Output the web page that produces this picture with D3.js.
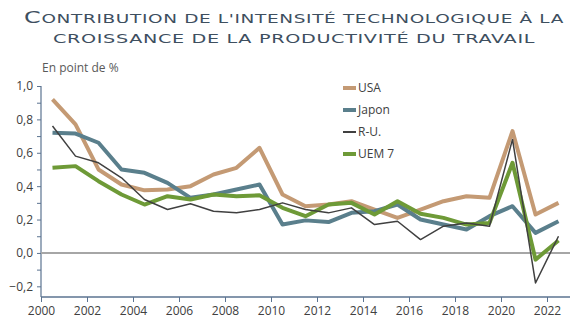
<!DOCTYPE html>
<html>
<head>
<meta charset="utf-8">
<script src="https://cdn.jsdelivr.net/npm/d3@7"></script>
<style>
  body { margin: 0; background: #fff; }
  svg { display: block; }
</style>
</head>
<body>
<svg width="588" height="321"></svg>
<script>
// years run 2000..2022, each point plotted at mid-year
const years = d3.range(2000, 2023);
const usa   = [0.92, 0.77, 0.50, 0.41, 0.375, 0.38, 0.40, 0.47, 0.51, 0.63, 0.35, 0.28, 0.29, 0.31, 0.26, 0.21, 0.26, 0.31, 0.34, 0.33, 0.73, 0.23, 0.30];
const japon = [0.72, 0.715, 0.66, 0.50, 0.48, 0.42, 0.33, 0.35, 0.38, 0.41, 0.17, 0.195, 0.185, 0.24, 0.25, 0.29, 0.20, 0.17, 0.14, 0.22, 0.28, 0.12, 0.19];
const ru    = [0.76, 0.58, 0.54, 0.45, 0.32, 0.26, 0.295, 0.25, 0.24, 0.26, 0.30, 0.26, 0.24, 0.27, 0.17, 0.19, 0.08, 0.16, 0.18, 0.16, 0.68, -0.18, 0.10];
const uem   = [0.51, 0.52, 0.43, 0.35, 0.29, 0.34, 0.32, 0.35, 0.34, 0.345, 0.27, 0.22, 0.29, 0.30, 0.23, 0.31, 0.235, 0.21, 0.17, 0.18, 0.54, -0.04, 0.075];

const seriesNames = ['USA', 'Japon', 'R-U.', 'UEM 7'];
const seriesColors = ['#c49a74', '#5a7f8c', '#404040', '#6e9a37'];
const seriesWidths = [4, 4, 1.5, 4];
const xTicks = d3.range(2000, 2023, 2);

const titleLines = ["Contribution de l'intensité technologique à la",
                    "croissance de la productivité du travail"];
const titleWidths = [540, 482];

const svg = d3.select("svg");
const plotLeft = 41, plotRight = 570, plotTop = 86, plotBottom = 297;

const x = d3.scaleLinear().domain([2000, 2023]).range([plotLeft, plotRight]);
const y = d3.scaleLinear().domain([-0.264, 1.0]).range([plotBottom, plotTop]);

// title in wide small caps: capitals at full size, the rest as smaller caps,
// then each line is stretched horizontally to its width
svg.append("g").selectAll("text")
   .data(titleLines)
   .enter().append("text")
   .attr("text-anchor", "middle")
   .style("font-family", "DejaVu Sans")
   .style("letter-spacing", "0.4px")
   .style("fill", "#3e4f5f")
   .each(function(d, i) {
     let t = d3.select(this);
     let first = d[0], rest = d.slice(1);
     t.append("tspan")
      .style("font-size", first == first.toUpperCase() ? "15px" : "11.6px")
      .text(first.toUpperCase());
     t.append("tspan").style("font-size", "11.6px").text(rest.toUpperCase());
     let sx = titleWidths[i] / this.getComputedTextLength();
     t.attr("transform", "translate(294," + (23 + i * 19.5) + ") scale(" + sx + ",1)");
   });

svg.append("text")
   .attr("x", 42).attr("y", 72)
   .style("font-family", "Open Sans")
   .style("font-size", "12px")
   .style("fill", "#595959")
   .text("En point de %");

// y axis with minor ticks every 0.1
const yAxis = d3.axisLeft(y)
                .tickValues(d3.range(-2, 11).map(d => d / 10))
                .tickSize(4)
                .tickFormat(d => Math.round(d * 10) % 2 == 0 ? d3.format(".1f")(d).replace(".", ",") : "");

svg.append("g")
   .attr("class", "axis y-axis")
   .attr("transform", "translate(" + plotLeft + ",0)")
   .call(yAxis)
   .call(g => {
     g.select(".domain").attr("d", "M0," + plotTop + "V" + plotBottom).attr("stroke", "#5b7390").attr("stroke-width", 1.2);
     g.selectAll(".tick line").attr("stroke", "#5b7390");
     g.selectAll(".tick text").attr("x", -8)
      .style("font-family", "Open Sans").style("font-size", "12px").style("fill", "#404040");
   });

// x axis
const xAxis = d3.axisBottom(x)
                .tickValues(xTicks)
                .tickSize(5)
                .tickFormat(d3.format("d"));

svg.append("g")
   .attr("class", "axis x-axis")
   .attr("transform", "translate(0," + plotBottom + ")")
   .call(xAxis)
   .call(g => {
     g.select(".domain").attr("d", "M" + plotLeft + ",0H" + plotRight).attr("stroke", "#5b7390").attr("stroke-width", 1.5);
     g.selectAll(".tick line").attr("stroke", "#5b7390");
     g.selectAll(".tick text").attr("y", 9)
      .style("font-family", "Open Sans").style("font-size", "12px").style("fill", "#404040");
   });

// zero line
svg.append("line")
   .attr("x1", plotLeft).attr("x2", plotRight)
   .attr("y1", y(0)).attr("y2", y(0))
   .attr("stroke", "#a6a6a6").attr("stroke-width", 2);

// thick series first, thin R-U. line on top
const series = [usa, japon, ru, uem];
const drawOrder = [0, 1, 3, 2];
const line = d3.line()
               .x((d, i) => x(years[i] + 0.5))
               .y(d => y(d));

svg.append("g").selectAll("path")
   .data(drawOrder)
   .enter().append("path")
   .attr("d", k => line(series[k]))
   .attr("fill", "none")
   .attr("stroke", k => seriesColors[k])
   .attr("stroke-width", k => seriesWidths[k])
   .attr("stroke-linejoin", "round");

// legend
const legend = svg.append("g").selectAll("g")
                  .data(seriesNames)
                  .enter().append("g")
                  .attr("transform", (d, i) => "translate(343," + (88 + i * 22) + ")");

legend.append("line")
      .attr("x1", 0).attr("x2", 13)
      .attr("stroke", (d, i) => seriesColors[i])
      .attr("stroke-width", (d, i) => i == 2 ? 2 : 4);

legend.append("text")
      .attr("x", 15).attr("dy", "0.35em")
      .style("font-family", "Open Sans")
      .style("font-size", "12px")
      .style("fill", "#404040")
      .text(d => d);
</script>
</body>
</html>
